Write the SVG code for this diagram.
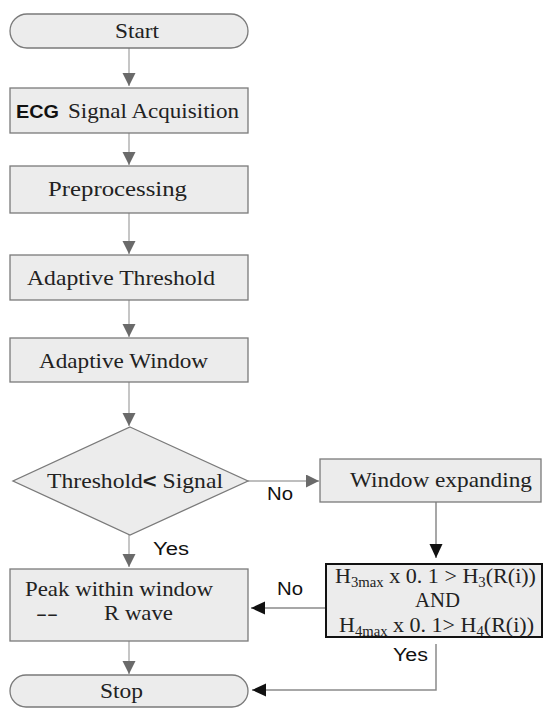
<svg xmlns="http://www.w3.org/2000/svg" width="544" height="708" viewBox="0 0 544 708">
<style>
.box{fill:#ececec;stroke:#7a7a7a;stroke-width:1.3}
.t{font-family:"Liberation Serif",serif;font-size:21px;fill:#222}
.s{font-family:"Liberation Sans",Arial,sans-serif;font-size:18px;fill:#111}
.cg{fill:none;stroke:#a8a8a8;stroke-width:1.3}
.ck{fill:none;stroke:#8a8a8a;stroke-width:1.5}
</style>
<defs>
<marker id="ag" markerUnits="userSpaceOnUse" markerWidth="14" markerHeight="14" refX="13" refY="6.5" orient="auto"><path d="M0,0 L13,6.5 L0,13 z" fill="#6a6a6a"/></marker>
<marker id="ak" markerUnits="userSpaceOnUse" markerWidth="15" markerHeight="14" refX="14" refY="6.5" orient="auto"><path d="M0,0 L14,6.5 L0,13 z" fill="#111"/></marker>
</defs>
<rect width="544" height="708" fill="#fff"/>
<g id="connectors">
<line class="cg" x1="129" y1="48" x2="129" y2="86" marker-end="url(#ag)"/>
<line class="cg" x1="129" y1="133" x2="129" y2="165" marker-end="url(#ag)"/>
<line class="cg" x1="129" y1="213" x2="129" y2="254" marker-end="url(#ag)"/>
<line class="cg" x1="129" y1="300" x2="129" y2="337" marker-end="url(#ag)"/>
<line class="cg" x1="129" y1="382" x2="129" y2="426" marker-end="url(#ag)"/>
<line class="cg" x1="248" y1="481" x2="319" y2="481" marker-end="url(#ag)"/>
<line class="cg" x1="129" y1="535" x2="129" y2="567" marker-end="url(#ag)"/>
<line class="cg" x1="129" y1="641" x2="129" y2="674" marker-end="url(#ag)"/>
<line class="ck" x1="436" y1="502" x2="436" y2="558" marker-end="url(#ak)"/>
<line class="ck" x1="326" y1="608" x2="251" y2="608" marker-end="url(#ak)"/>
<path class="ck" d="M436,644 V690 H252" marker-end="url(#ak)"/>
<text class="s" x="267" y="500" textLength="26" lengthAdjust="spacingAndGlyphs">No</text>
<text class="s" x="153" y="555" textLength="36" lengthAdjust="spacingAndGlyphs">Yes</text>
<text class="s" x="277" y="595" textLength="26" lengthAdjust="spacingAndGlyphs">No</text>
<text class="s" x="393" y="661" textLength="35" lengthAdjust="spacingAndGlyphs">Yes</text>
</g>
<g id="start">
<rect class="box" x="10" y="14" width="238" height="34" rx="17"/>
<text class="t" x="115" y="38" textLength="44" lengthAdjust="spacingAndGlyphs">Start</text>
</g>
<g id="ecg">
<rect class="box" x="10" y="88" width="238" height="45"/>
<text x="16" y="118" font-family="Liberation Sans,Arial,sans-serif" font-weight="bold" font-size="19" fill="#111" textLength="43" lengthAdjust="spacingAndGlyphs">ECG</text>
<text class="t" x="68" y="118" textLength="171" lengthAdjust="spacingAndGlyphs">Signal Acquisition</text>
</g>
<g id="preprocessing">
<rect class="box" x="10" y="166" width="238" height="47"/>
<text class="t" x="48" y="196" textLength="139" lengthAdjust="spacingAndGlyphs">Preprocessing</text>
</g>
<g id="threshold">
<rect class="box" x="10" y="255" width="238" height="45"/>
<text class="t" x="27" y="285" textLength="188" lengthAdjust="spacingAndGlyphs">Adaptive Threshold</text>
</g>
<g id="window">
<rect class="box" x="10" y="338" width="238" height="44"/>
<text class="t" x="39" y="368" textLength="169" lengthAdjust="spacingAndGlyphs">Adaptive Window</text>
</g>
<g id="decision">
<polygon class="box" points="130,427 248,481 130,535 13,481"/>
<text class="t" x="47" y="488" textLength="176" lengthAdjust="spacingAndGlyphs">Threshold<tspan font-family="Liberation Sans,Arial,sans-serif" font-weight="bold">&lt;</tspan> Signal</text>
</g>
<g id="expanding">
<rect class="box" x="320" y="459" width="221" height="43"/>
<text class="t" x="350" y="487" textLength="182" lengthAdjust="spacingAndGlyphs">Window expanding</text>
</g>
<g id="condition">
<rect x="326" y="564" width="216" height="73" fill="#ececec" stroke="#111" stroke-width="2"/>
<text class="t" x="335" y="583" textLength="201" lengthAdjust="spacingAndGlyphs">H<tspan font-size="14" dy="4">3max</tspan><tspan dy="-4"> x 0. 1 &gt; H</tspan><tspan font-size="14" dy="4">3</tspan><tspan dy="-4">(R(i))</tspan></text>
<text class="t" x="415" y="607" textLength="45" lengthAdjust="spacingAndGlyphs">AND</text>
<text class="t" x="339" y="632" textLength="195" lengthAdjust="spacingAndGlyphs">H<tspan font-size="14" dy="4">4max</tspan><tspan dy="-4"> x 0. 1&gt; H</tspan><tspan font-size="14" dy="4">4</tspan><tspan dy="-4">(R(i))</tspan></text>
</g>
<g id="peak">
<rect class="box" x="10" y="569" width="238" height="72"/>
<text class="t" x="25" y="596" textLength="188" lengthAdjust="spacingAndGlyphs">Peak within window</text>
<text class="t" x="36" y="620" textLength="22" lengthAdjust="spacingAndGlyphs">--</text>
<text class="t" x="104" y="620" textLength="69" lengthAdjust="spacingAndGlyphs">R wave</text>
</g>
<g id="stop">
<rect class="box" x="10" y="675" width="238" height="32" rx="16"/>
<text class="t" x="100" y="698" textLength="43" lengthAdjust="spacingAndGlyphs">Stop</text>
</g>
</svg>
